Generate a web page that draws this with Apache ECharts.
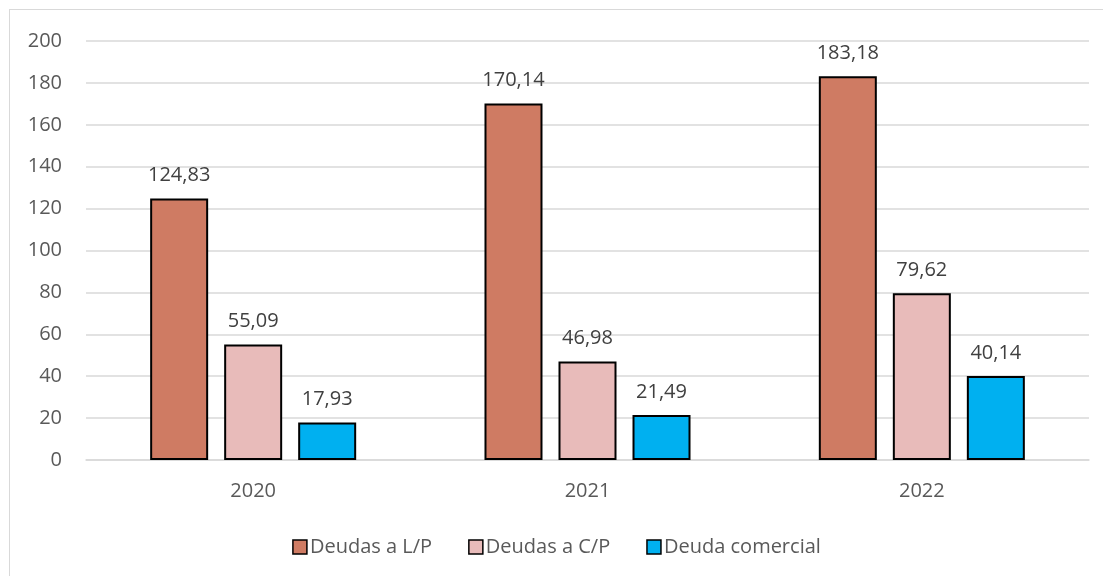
<!DOCTYPE html>
<html>
<head>
<meta charset="utf-8">
<script src="https://cdn.jsdelivr.net/npm/echarts@6/dist/echarts.min.js"></script>
<style>
  html, body { margin: 0; padding: 0; background: #fff; }
  #main { position: absolute; left: 9px; top: 9px; width: 1094px; height: 567px; border: 1px solid #d9d9d9; box-sizing: border-box; border-right: none; border-bottom: none; }
</style>
</head>
<body>
<div id="main"></div>
<script>
var years = ['2020', '2021', '2022'];
var deudasLP = [124.83, 170.14, 183.18];
var deudasCP = [55.09, 46.98, 79.62];
var deudaComercial = [17.93, 21.49, 40.14];
var yTicks = { min: 0, max: 200, interval: 20 };

var font = 'Open Sans';
var fmt = function (p) { return p.value.toFixed(2).replace('.', ','); };

var makeSeries = function (name, data, color) {
    return {
        name: name,
        type: 'bar',
        data: data,
        barWidth: 58,
        barGap: '27.6%',
        itemStyle: { color: color, borderColor: '#000', borderWidth: 2 },
        label: {
            show: true,
            position: 'top',
            distance: 13,
            formatter: fmt,
            color: '#404040',
            fontSize: 20,
            fontFamily: font
        }
    };
};

var myChart = echarts.init(document.getElementById('main'));
myChart.setOption({
    animation: false,
    textStyle: { fontFamily: font },
    grid: { left: 76, right: 14, top: 31, bottom: 116, containLabel: false },
    legend: {
        bottom: 14,
        left: 'center',
        icon: 'rect',
        itemWidth: 14,
        itemHeight: 14,
        itemGap: 36,
        itemStyle: { borderColor: '#000', borderWidth: 1.5 },
        textStyle: { color: '#595959', fontSize: 20, fontFamily: font, padding: [0, 0, 0, -2] },
        data: ['Deudas a L/P', 'Deudas a C/P', 'Deuda comercial']
    },
    xAxis: {
        type: 'category',
        data: years,
        axisLine: { lineStyle: { color: '#d9d9d9', width: 1.5 } },
        axisTick: { show: false },
        axisLabel: { color: '#595959', fontSize: 20, margin: 21 }
    },
    yAxis: {
        type: 'value',
        min: yTicks.min,
        max: yTicks.max,
        interval: yTicks.interval,
        axisLine: { show: false },
        axisTick: { show: false },
        splitLine: { lineStyle: { color: '#d9d9d9', width: 1.5 } },
        axisLabel: { color: '#595959', fontSize: 20, margin: 24 }
    },
    series: [
        makeSeries('Deudas a L/P', deudasLP, '#cf7b63'),
        makeSeries('Deudas a C/P', deudasCP, '#e8bbba'),
        makeSeries('Deuda comercial', deudaComercial, '#00b0f0')
    ]
});
</script>
</body>
</html>
